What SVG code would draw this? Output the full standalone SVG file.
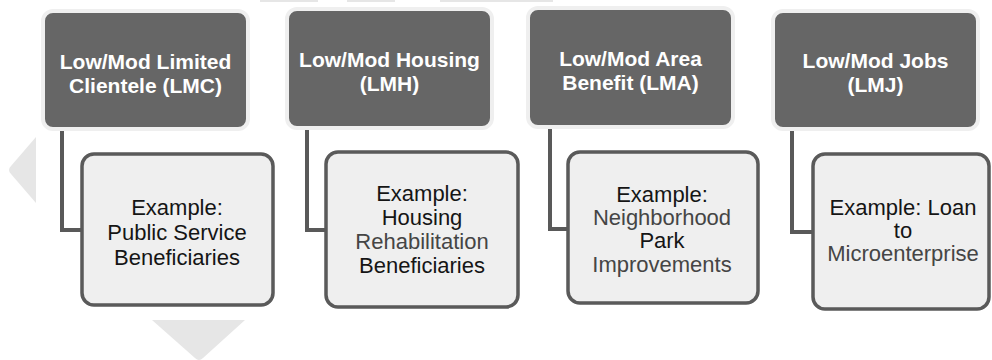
<svg xmlns="http://www.w3.org/2000/svg" width="992" height="360" viewBox="0 0 992 360">
  <style>
    .bg { fill: #e6e6e6; }
    .head { fill: #666666; stroke: #efefef; stroke-width: 4; }
    .head-text { font-family: "Liberation Sans", Arial, sans-serif; font-weight: bold; font-size: 21px; fill: #ffffff; text-anchor: middle; }
    .child { fill: #efefef; stroke: #5a5a5a; stroke-width: 3.5; }
    .child-text { font-family: "Liberation Sans", Arial, sans-serif; font-size: 22px; fill: #151515; text-anchor: middle; }
    .soft { fill: #454545; }
    .link { fill: none; stroke: #595959; stroke-width: 4; }
  </style>

  <rect width="992" height="360" fill="#ffffff"/>

  <!-- background arrow shapes -->
  <g id="background">
    <path class="bg" d="M36 137 L36 203 L11 174 Q7 170 11 166 Z"/>
    <path class="bg" d="M152 320 L245 320 L203 358 Q199 362 195 358 Z"/>
    <rect class="bg" x="260" y="0" width="58" height="2"/>
    <rect class="bg" x="347" y="0" width="48" height="2"/>
    <rect class="bg" x="440" y="0" width="113" height="2"/>
  </g>

  <!-- connectors from category to example -->
  <g id="connectors">
    <path class="link" d="M62 129 V230 H82"/>
    <path class="link" d="M307 128 V230 H326"/>
    <path class="link" d="M550 127 V229 H568"/>
    <path class="link" d="M792 129 V232 H813"/>
  </g>

  <g id="lmc">
    <rect class="head" x="43" y="11" width="205" height="118" rx="10"/>
    <text class="head-text" x="145.5" y="69">Low/Mod Limited</text>
    <text class="head-text" x="145.5" y="93">Clientele (LMC)</text>
  </g>
  <g id="lmc-example">
    <rect class="child" x="82" y="154" width="191" height="151" rx="12"/>
    <text class="child-text" x="177" y="215">Example:</text>
    <text class="child-text" x="177" y="240">Public Service</text>
    <text class="child-text" x="177" y="265">Beneficiaries</text>
  </g>

  <g id="lmh">
    <rect class="head" x="287" y="9" width="205" height="119" rx="10"/>
    <text class="head-text" x="389.5" y="67">Low/Mod Housing</text>
    <text class="head-text" x="389.5" y="91">(LMH)</text>
  </g>
  <g id="lmh-example">
    <rect class="child" x="326" y="152" width="192" height="155" rx="12"/>
    <text class="child-text" x="422" y="201">Example:</text>
    <text class="child-text" x="422" y="225">Housing</text>
    <text class="child-text soft" x="422" y="249">Rehabilitation</text>
    <text class="child-text" x="422" y="273">Beneficiaries</text>
  </g>

  <g id="lma">
    <rect class="head" x="528" y="8" width="205" height="119" rx="10"/>
    <text class="head-text" x="630.5" y="66">Low/Mod Area</text>
    <text class="head-text" x="630.5" y="90">Benefit (LMA)</text>
  </g>
  <g id="lma-example">
    <rect class="child" x="568" y="152" width="190" height="151" rx="12"/>
    <text class="child-text" x="662" y="202">Example:</text>
    <text class="child-text soft" x="662" y="225">Neighborhood</text>
    <text class="child-text" x="662" y="248">Park</text>
    <text class="child-text soft" x="662" y="272">Improvements</text>
  </g>

  <g id="lmj">
    <rect class="head" x="773" y="11" width="205" height="118" rx="10"/>
    <text class="head-text" x="875.5" y="68">Low/Mod Jobs</text>
    <text class="head-text" x="875.5" y="92">(LMJ)</text>
  </g>
  <g id="lmj-example">
    <rect class="child" x="813" y="154" width="176" height="155" rx="12"/>
    <text class="child-text" x="903" y="215">Example: Loan</text>
    <text class="child-text" x="903" y="238">to</text>
    <text class="child-text soft" x="903" y="261">Microenterprise</text>
  </g>
</svg>
